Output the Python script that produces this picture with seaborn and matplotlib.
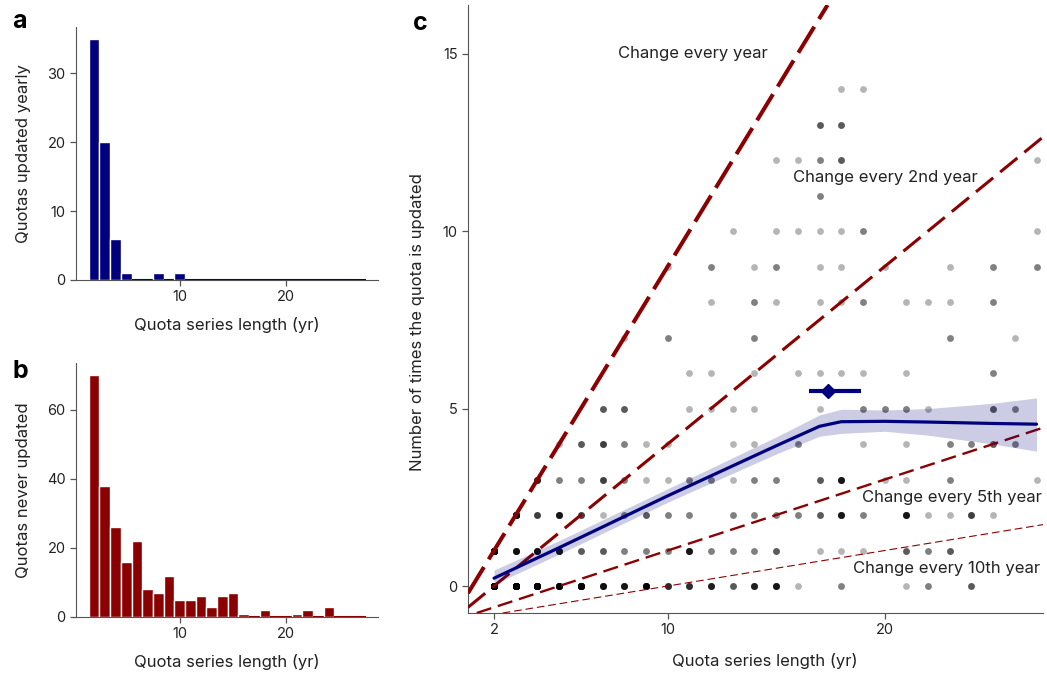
import numpy as np
import pandas as pd
import matplotlib
matplotlib.use("Agg")
import matplotlib.pyplot as plt
import seaborn as sns

# ---- data ----
# Panels a and b: histograms by quota series length (yr)
series_len = list(range(2, 28))
updated_yearly = [35, 20, 6, 1, 0, 0, 1, 0, 1, 0, 0, 0, 0, 0, 0, 0, 0, 0, 0, 0, 0, 0, 0, 0, 0, 0]
never_updated = [70, 38, 26, 16, 22, 8, 7, 12, 5, 5, 6, 3, 6, 7, 1, 0, 2, 0, 0, 1, 2, 0, 3, 0, 0, 0]

# Panel c: one entry per (length, number of updates) cell, with how many quotas sit there
dot_len = [2, 3, 4, 5, 6, 7, 8, 9, 10, 11, 12, 13, 14, 15, 16, 18, 21, 22, 24,
           2, 3, 4, 5, 6, 7, 8, 9, 10, 11, 12, 13, 14, 15, 17, 18, 19, 21, 22, 23,
           3, 4, 5, 6, 7, 8, 9, 10, 11, 13, 14, 15, 16, 17, 18, 19, 21, 22, 23, 24, 25,
           4, 5, 6, 7, 8, 9, 10, 11, 12, 13, 14, 15, 17, 18, 20, 21, 23, 27,
           5, 6, 7, 8, 9, 10, 13, 14, 16, 19, 21, 23, 24, 25, 26,
           7, 8, 11, 12, 13, 14, 17, 19, 20, 21, 22, 25, 26,
           11, 12, 14, 16, 17, 18, 19, 21, 25,
           8, 10, 14, 23, 26,
           12, 14, 15, 17, 18, 19, 21, 22, 23, 25,
           10, 12, 14, 15, 17, 18, 20, 23, 25, 27,
           13, 15, 16, 17, 18, 19, 27,
           17,
           15, 16, 17, 18, 27,
           17, 18,
           18, 19]
dot_upd = ([0] * 19 + [1] * 20 + [2] * 21 + [3] * 18 + [4] * 15 + [5] * 13 + [6] * 9
           + [7] * 5 + [8] * 10 + [9] * 10 + [10] * 7 + [11] * 1 + [12] * 5 + [13] * 2 + [14] * 2)
dot_n = [70, 38, 26, 16, 22, 8, 7, 12, 5, 5, 6, 3, 6, 7, 1, 2, 1, 2, 3,
         35, 8, 8, 7, 3, 3, 2, 2, 2, 7, 2, 2, 2, 3, 1, 1, 1, 3, 2, 3,
         20, 4, 7, 4, 1, 2, 3, 2, 2, 2, 2, 2, 2, 3, 7, 2, 7, 1, 1, 4, 1,
         6, 2, 2, 4, 2, 1, 1, 2, 2, 1, 2, 2, 3, 7, 1, 1, 2, 1,
         1, 3, 4, 2, 1, 1, 1, 1, 2, 1, 1, 2, 2, 3, 2,
         3, 3, 1, 1, 1, 1, 1, 2, 2, 2, 1, 3, 2,
         1, 1, 1, 1, 1, 1, 1, 1, 2,
         1, 2, 2, 2, 1,
         1, 2, 1, 1, 1, 2, 1, 1, 1, 2,
         1, 2, 1, 2, 1, 1, 1, 1, 2, 2,
         1, 1, 1, 1, 1, 2, 1,
         2,
         1, 1, 2, 3, 1,
         3, 3,
         1, 1]

# Smoothed mean number of updates with confidence band
trend_x = [2, 5, 10, 15, 17, 18, 20, 22, 25, 27]
trend_y = [0.22, 1.08, 2.54, 3.95, 4.50, 4.63, 4.64, 4.62, 4.58, 4.56]
trend_lo = [0.05, 0.90, 2.36, 3.72, 4.22, 4.30, 4.36, 4.25, 4.00, 3.80]
trend_hi = [0.45, 1.28, 2.74, 4.20, 4.82, 4.98, 4.96, 5.00, 5.15, 5.30]

# Mean point with horizontal interval
mean_len, mean_upd = 17.4, 5.5
mean_len_lo, mean_len_hi = 16.5, 18.9

# Reference lines: change every k-th year
change_every = [1, 2, 5, 10]
change_labels = ["Change every year", "Change every 2nd year",
                 "Change every 5th year", "Change every 10th year"]

NAVY = "#00007f"
DARKRED = "#8b0000"
TXT = "#222222"

sns.set_style("ticks")
plt.rcParams["font.family"] = ["Inter", "DejaVu Sans"]
plt.rcParams["font.size"] = 10.5
plt.rcParams["lines.scale_dashes"] = False
plt.rcParams["axes.edgecolor"] = "#555555"
plt.rcParams["xtick.color"] = "#555555"
plt.rcParams["ytick.color"] = "#555555"
plt.rcParams["xtick.labelcolor"] = TXT
plt.rcParams["ytick.labelcolor"] = TXT
plt.rcParams["axes.labelcolor"] = TXT

fig = plt.figure(figsize=(10.47, 6.74), dpi=100)
ax_a = fig.add_axes([0.0726, 0.5846, 0.2885, 0.3754])
ax_b = fig.add_axes([0.0726, 0.0846, 0.2885, 0.3768])
ax_c = fig.add_axes([0.447, 0.0905, 0.5492, 0.9021])


def draw_hist(ax, counts, color, ylabel):
    sns.histplot(x=series_len, weights=counts, discrete=True, color=color, alpha=1,
                 edgecolor="white", linewidth=1, ax=ax)
    # empty bins still show as a thin coloured line on the baseline
    for p in ax.patches:
        if p.get_height() == 0:
            p.set_edgecolor(color)
            p.set_linewidth(1.5)
    ax.set_xlim(0.3, 28.6)
    ax.set_xticks([10, 20])
    ax.set_xlabel("Quota series length (yr)", fontsize=12)
    ax.set_ylabel(ylabel, fontsize=12)
    ax.xaxis.set_label_coords(0.5, -0.145)
    ax.yaxis.set_label_coords(-0.148, 0.5)
    ax.tick_params(length=4, width=0.9, labelsize=10.5)
    sns.despine(ax=ax)


draw_hist(ax_a, updated_yearly, NAVY, "Quotas updated yearly")
ax_a.set_yticks([0, 10, 20, 30])
draw_hist(ax_b, never_updated, DARKRED, "Quotas never updated")
ax_b.set_yticks([0, 20, 40, 60])

# ---- panel c ----
dots = pd.DataFrame({"length": dot_len, "updates": dot_upd, "n": dot_n})
dots = dots.loc[dots.index.repeat(dots["n"])]
sns.scatterplot(data=dots, x="length", y="updates", color="black", alpha=0.29,
                s=24, linewidth=0, ax=ax_c, zorder=2)

line_w = [2.9, 2.2, 1.7, 0.8]
line_dash = [(22, 6.5), (16, 6.5), (11, 5), (5.5, 2.8)]
for k, lw, d in zip(change_every, line_w, line_dash):
    ax_c.axline((0, -1), slope=1 / k, color=DARKRED, lw=lw, linestyle=(0, d), zorder=3)

ax_c.fill_between(trend_x, trend_lo, trend_hi, color=NAVY, alpha=0.2, linewidth=0, zorder=4)
sns.lineplot(x=trend_x, y=trend_y, color=NAVY, lw=2.3, ax=ax_c, zorder=5)
ax_c.errorbar([mean_len], [mean_upd],
              xerr=[[mean_len - mean_len_lo], [mean_len_hi - mean_len]],
              fmt="D", color=NAVY, ms=7, elinewidth=3, capsize=0, zorder=6)

label_pos = [(11.18, 15.0, "center"), (15.78, 11.5, "left"),
             (18.96, 2.5, "left"), (18.54, 0.5, "left")]
for (lx, ly, ha), txt in zip(label_pos, change_labels):
    ax_c.text(lx, ly, txt, ha=ha, va="center", fontsize=12, color=TXT, zorder=7)

ax_c.set_xlim(0.8, 27.3)
ax_c.set_ylim(-0.76, 16.37)
ax_c.set_xticks([2, 10, 20])
ax_c.set_yticks([0, 5, 10, 15])
ax_c.set_xlabel("Quota series length (yr)", fontsize=12)
ax_c.set_ylabel("Number of times the quota is updated", fontsize=12)
ax_c.xaxis.set_label_coords(0.517, -0.066)
ax_c.yaxis.set_label_coords(-0.074, 0.479)
ax_c.tick_params(length=4, width=0.9, labelsize=10.5)
sns.despine(ax=ax_c)

for x, y, s in [(0.0115, 0.9585, "a"), (0.0115, 0.439, "b"), (0.3945, 0.955, "c")]:
    fig.text(x, y, s, fontsize=18, fontweight="bold", color="black", va="baseline")

fig.savefig("out.png", dpi=100)
